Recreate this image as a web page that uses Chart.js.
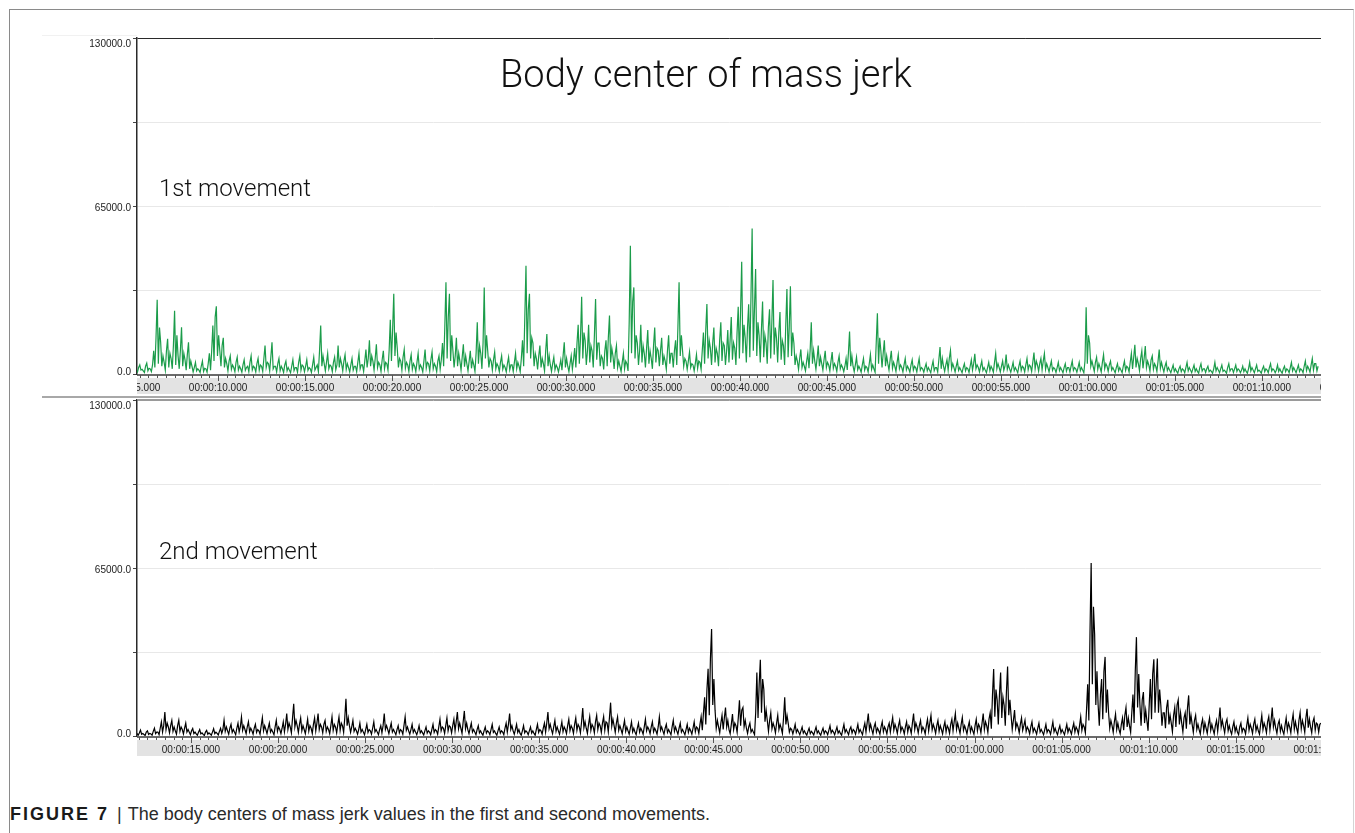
<!DOCTYPE html>
<html>
<head>
<meta charset="utf-8">
<script src="https://cdn.jsdelivr.net/npm/chart.js@4.4.1/dist/chart.umd.min.js"></script>
<style>
  html, body { margin: 0; padding: 0; background: #fff; }
  body { width: 1355px; height: 833px; position: relative; overflow: hidden; }
  .frame { position: absolute; left: 9px; top: 9px; width: 1343px; height: 840px;
           border-left: 1px solid #8a8a8a; border-top: 1px solid #8a8a8a; border-right: 1px solid #d4d4d4; }
  canvas { position: absolute; left: 0; }
  #topChart { top: 0; }
  #bottomChart { top: 362px; }
  .hline { position: absolute; }
  .txt { position: absolute; white-space: nowrap; color: #111; line-height: 1; }
  #title { left: 406px; width: 600px; text-align: center; top: 52px; font: 300 38px Roboto, "Open Sans", sans-serif; }
  .mv { left: 159px; font: 300 24px Roboto, "Open Sans", sans-serif; }
  #mv1 { top: 174px; }
  #mv2 { top: 537px; }
  #caption { left: 10px; top: 804px; font: 18px "Liberation Sans", Arial, sans-serif; color: #2a2a2a; }
  #caption b { font-weight: bold; letter-spacing: 2px; color: #1a1a1a; }
  #caption .bar { margin: 0 6px 0 8px; }
</style>
</head>
<body>
<div class="frame"></div>
<div class="hline" style="left:42px;top:35px;width:95px;height:1px;background:#f1f1f1"></div>
<canvas id="topChart" width="1355" height="400"></canvas>
<canvas id="bottomChart" width="1355" height="400"></canvas>
<div class="hline" style="left:42px;top:396px;width:1279px;height:2px;background:#a8a8a8"></div>
<div class="hline" style="left:137px;top:399px;width:1184px;height:1px;background:#9a9a9a"></div>
<div class="txt" id="title">Body center of mass jerk</div>
<div class="txt mv" id="mv1">1st movement</div>
<div class="txt mv" id="mv2">2nd movement</div>
<div class="txt" id="caption"><b>FIGURE 7</b><span class="bar">|</span>The body centers of mass jerk values in the first and second movements.</div>
<script>
// Sampling grid of both recordings (seconds). Each 0.2 s block holds three
// interleaved sample phases: P0 at t, P1 at t + 1/3 step, P2 at t + 2/3 step.
const SAMPLE_STEP = 0.2;
const firstStart = 5.3;
const secondStart = 11.9;
const firstRange = [5.34, 73.4];
const secondRange = [11.9, 79.9];

// Body centre of mass jerk, 1st movement
const firstJerkP0 = [
  1500, 3500, 1200, 4200, 2000, 9000, 28700, 12300, 4500, 13600,
  6000, 24500, 7000, 18100, 5500, 12300, 3000, 4500, 1500, 5000,
  2000, 8000, 18800, 26200, 9000, 14000, 4000, 7000, 2500, 6500,
  2000, 5500, 3000, 7000, 2500, 6000, 3000, 11000, 4000, 12300,
  3000, 6000, 2000, 5000, 1500, 5500, 2500, 7000, 3000, 5500,
  2000, 6500, 3500, 18800, 4000, 8000, 3000, 6500, 11000, 4000,
  7500, 2500, 6000, 3000, 8000, 3500, 9500, 13000, 5000, 11500,
  3500, 9000, 4000, 21000, 31000, 10000, 5000, 9500, 3500, 7500,
  3000, 8000, 2500, 9500, 4000, 8500, 3000, 7000, 12000, 35500,
  31000, 9000, 14000, 5000, 11500, 4000, 9000, 3500, 20000, 8000,
  33500, 9000, 5000, 8500, 3000, 7000, 2500, 6500, 3500, 8000,
  3000, 13000, 41900, 31000, 12000, 6000, 11000, 4000, 15500, 3500,
  6500, 2500, 5500, 12300, 3000, 7000, 10000, 19000, 29900, 13000,
  19000, 9000, 29000, 12000, 6000, 13000, 22600, 7000, 11000, 3000,
  8000, 4000, 49600, 33500, 12000, 19000, 8000, 17000, 6000, 18000,
  9000, 14000, 5000, 15000, 8000, 13000, 35500, 9000, 5000, 8500,
  3500, 7500, 4500, 16000, 27100, 10000, 18000, 8000, 20000, 11000,
  17000, 22000, 10000, 26000, 43400, 14000, 27000, 56300, 40600, 15000,
  28000, 12000, 25000, 36400, 14000, 24000, 11000, 32900, 33900, 12000,
  5000, 9500, 3000, 8000, 20000, 5000, 11000, 4000, 9000, 3500,
  8500, 3000, 7000, 2500, 6000, 16400, 3000, 6500, 2000, 6000,
  2500, 7500, 2000, 23500, 9000, 13000, 4000, 9000, 3000, 7500,
  2500, 6000, 2000, 5500, 2500, 6000, 2000, 4000, 1500, 5000,
  2500, 10400, 3000, 5500, 9100, 2500, 5000, 1500, 4000, 2000,
  5500, 7800, 2500, 5000, 1500, 4500, 2000, 8000, 2500, 5000,
  7500, 2000, 4500, 1500, 5000, 2500, 6000, 3000, 8300, 3500,
  6000, 7900, 2500, 5000, 2000, 4500, 1500, 4000, 2500, 5000,
  2000, 4500, 1500, 25800, 12000, 3000, 6500, 2500, 7500, 3000,
  5000, 1500, 4000, 1500, 5000, 2500, 8000, 11300, 4000, 9000,
  10800, 3500, 7000, 3000, 9500, 2500, 4500, 1500, 3500, 1000,
  3000, 1500, 4500, 1500, 3500, 1000, 4000, 2000, 3000, 1000,
  4500, 1500, 3500, 1000, 4000, 2000, 3500, 1500, 3000, 1000,
  4500, 1500, 3500, 1000, 3000, 1500, 4000, 1500, 3500, 1000,
  3000, 1500, 4500, 1500, 3500, 1500, 5000, 2000, 6000, 4000
];
const firstJerkP1 = [
  800, 1500, 600, 1200, 900, 2500, 4000, 3000, 1500, 2500,
  2000, 3500, 2000, 3000, 1500, 2000, 800, 1200, 600, 1000,
  700, 1500, 5000, 7000, 3000, 2500, 1200, 1800, 900, 1500,
  700, 1400, 900, 1600, 800, 1500, 1000, 2500, 1200, 2000,
  800, 1300, 600, 1200, 500, 1300, 700, 1500, 900, 1400,
  600, 1500, 900, 3000, 1200, 2000, 900, 1600, 2500, 1200,
  1800, 800, 1500, 900, 2000, 1000, 2500, 3000, 1500, 2500,
  1000, 2000, 1500, 5000, 7000, 2500, 1500, 2200, 1000, 1800,
  900, 2000, 800, 2200, 1200, 2000, 900, 1800, 3000, 6000,
  5000, 2500, 3000, 1500, 2800, 1200, 2200, 1000, 4000, 2000,
  6000, 2500, 1500, 2000, 900, 1800, 800, 1600, 1000, 2000,
  900, 3000, 8000, 6000, 3000, 1800, 2500, 1200, 3000, 1000,
  1600, 800, 1500, 2500, 900, 1800, 2500, 4000, 6000, 3500,
  4500, 2500, 5500, 3000, 1800, 3000, 4500, 2000, 2500, 1000,
  2000, 1200, 8000, 6000, 3500, 4500, 2500, 4000, 2000, 4500,
  3000, 3500, 1800, 4000, 2500, 3500, 7000, 3000, 1800, 2500,
  1200, 2200, 1800, 4000, 6000, 3500, 4500, 3000, 5000, 3500,
  4500, 5500, 3500, 6000, 8000, 4500, 6500, 9000, 7000, 4500,
  6500, 4000, 6000, 7500, 4500, 5500, 3500, 6500, 7000, 3500,
  1800, 2500, 1200, 2200, 4000, 1800, 3000, 1500, 2500, 1200,
  2200, 1000, 2000, 900, 1600, 3000, 900, 1600, 700, 1500,
  800, 1800, 700, 4000, 2500, 3000, 1500, 2200, 1000, 2000,
  800, 1600, 700, 1500, 800, 1500, 700, 1200, 500, 1300,
  800, 2000, 1000, 1500, 2000, 800, 1400, 500, 1200, 600,
  1500, 2000, 800, 1400, 500, 1300, 700, 2000, 800, 1400,
  1800, 700, 1300, 500, 1400, 800, 1600, 1000, 2000, 1100,
  1600, 1800, 800, 1400, 600, 1300, 500, 1100, 800, 1400,
  700, 1300, 500, 4000, 3000, 1000, 1800, 800, 2000, 1000,
  1500, 500, 1200, 500, 1400, 800, 2000, 2500, 1300, 2200,
  2500, 1100, 1800, 1000, 2200, 800, 1300, 500, 1000, 300,
  900, 500, 1200, 500, 1000, 300, 1100, 600, 900, 300,
  1200, 500, 1000, 300, 1100, 600, 1000, 500, 900, 300,
  1200, 500, 1000, 300, 900, 500, 1100, 500, 1000, 300,
  900, 500, 1200, 500, 1000, 500, 1300, 700, 1500, 1200
];
const firstJerkP2 = [
  2500, 1800, 3000, 2200, 3500, 14000, 18000, 7000, 9000, 8000,
  11000, 15000, 9000, 8000, 7500, 5000, 2500, 2000, 3000, 2200,
  4000, 9000, 22000, 15000, 11000, 6000, 5000, 3500, 4500, 3000,
  3500, 2500, 4500, 3000, 4000, 3500, 6000, 4500, 6500, 3000,
  4000, 3000, 3500, 2500, 3000, 2500, 4500, 3500, 3000, 2500,
  3500, 2500, 9000, 7000, 4500, 3500, 4500, 3500, 6000, 5000,
  4000, 3500, 3000, 4500, 3500, 5000, 6000, 7000, 6000, 4500,
  5500, 4500, 9000, 17000, 16000, 6000, 6500, 4500, 5000, 4000,
  4500, 3500, 5000, 4500, 5500, 4000, 5000, 5500, 18000, 22000,
  15000, 7000, 8000, 6500, 7000, 5000, 5500, 8000, 11000, 12000,
  15000, 6000, 5500, 4000, 4500, 3500, 4000, 3500, 4500, 4500,
  6000, 22000, 25000, 14000, 8000, 7000, 6000, 9000, 7000, 4000,
  3500, 3000, 7000, 6000, 4000, 5500, 12000, 14000, 16000, 9000,
  11000, 15000, 12000, 7000, 9000, 14000, 10000, 8000, 5000, 4500,
  5000, 20000, 28000, 15000, 9000, 11000, 10000, 9000, 11000, 10000,
  9000, 7000, 9000, 8000, 9000, 18000, 15000, 6000, 5000, 4000,
  4000, 5000, 9000, 17000, 13000, 12000, 10000, 13000, 12000, 9000,
  13000, 12000, 16000, 24000, 19000, 18000, 30000, 25000, 20000, 17000,
  15000, 18000, 20000, 18000, 16000, 13000, 19000, 18000, 16000, 7000,
  6000, 4500, 5000, 9000, 9000, 6000, 6500, 5500, 4500, 5000,
  4000, 4500, 3500, 3000, 8000, 7000, 3500, 3000, 3500, 3000,
  4000, 3500, 12000, 14000, 8000, 7000, 5500, 4500, 4500, 3500,
  3500, 3000, 3500, 3000, 3500, 2500, 2500, 2500, 3000, 2500,
  5500, 6000, 3500, 6000, 4000, 3000, 2500, 2500, 2500, 3000,
  4000, 3500, 3000, 2500, 2500, 3000, 4500, 4000, 3000, 3000,
  3500, 2500, 2500, 3000, 3000, 3500, 3500, 4500, 5000, 4000,
  5000, 4000, 3000, 2500, 2500, 2500, 2500, 2500, 3000, 2500,
  2500, 2500, 5000, 15000, 5000, 4500, 4000, 4500, 4000, 3500,
  2500, 2500, 2500, 3000, 3000, 4500, 6500, 6000, 6000, 6000,
  5000, 5500, 4000, 5000, 4500, 3000, 2500, 2000, 2000, 2000,
  2000, 2500, 2500, 2000, 2000, 2500, 2000, 2000, 1500, 2000,
  2500, 2000, 1500, 2500, 2000, 2000, 2000, 1500, 2000, 2000,
  2500, 2000, 1500, 2000, 2000, 2500, 2000, 1500, 2000, 2000,
  2000, 2500, 2500, 2000, 2000, 3000, 3000, 3500, 4000, 3000
];

// Body centre of mass jerk, 2nd movement
const secondJerkP0 = [
  1000, 2300, 600, 2000, 800, 3000, 1500, 5500, 9300, 3500,
  6000, 2000, 6100, 2500, 5000, 1500, 2900, 800, 2500, 600,
  2200, 800, 2800, 1000, 3000, 6100, 2000, 4500, 1500, 5000,
  7400, 2500, 5500, 2000, 4500, 2000, 7100, 2500, 5000, 1500,
  6100, 2500, 5500, 8700, 3500, 12500, 4000, 7000, 2500, 6500,
  3000, 7000, 8700, 3500, 6000, 2500, 7400, 3500, 7400, 4000,
  14400, 4000, 6000, 2000, 5000, 1500, 4500, 2000, 5500, 1500,
  4000, 8700, 2500, 5000, 1500, 4000, 2000, 7400, 2000, 4500,
  1500, 4000, 1200, 3500, 1500, 4500, 2000, 6500, 3000, 7000,
  3500, 6500, 9300, 3000, 9700, 2500, 5000, 1500, 4000, 1000,
  3500, 1500, 4500, 1000, 3500, 1500, 5000, 8700, 2000, 4500,
  1000, 4000, 1500, 3500, 1000, 4500, 2000, 5000, 9300, 2500,
  6000, 2000, 5500, 2500, 6500, 3000, 7000, 3500, 10800, 3000,
  7500, 3500, 8000, 4000, 7500, 5000, 12900, 4000, 7400, 2500,
  6000, 2000, 5500, 1500, 5000, 2000, 6500, 2500, 5500, 2000,
  7400, 2000, 4500, 1500, 6100, 2000, 5000, 1500, 4500, 2000,
  5500, 3000, 7500, 15000, 26000, 41400, 9900, 3500, 8000, 11000,
  2500, 8500, 4000, 13800, 11000, 3000, 5000, 1500, 24600, 29500,
  18000, 6000, 9000, 3500, 8000, 3000, 15000, 5000, 2500, 4500,
  1500, 3500, 1000, 3000, 1200, 3500, 1000, 3000, 1500, 4000,
  1500, 3500, 1000, 4500, 1500, 3500, 2000, 4500, 1500, 5000,
  8700, 2500, 5000, 2000, 5500, 2500, 5000, 7200, 3000, 6000,
  2500, 5500, 3000, 8700, 3500, 6000, 2500, 6500, 8000, 3000,
  6000, 2500, 5500, 3000, 6500, 8700, 3000, 7200, 2500, 5500,
  2000, 6500, 3500, 8700, 4000, 9000, 25900, 14000, 24600, 12000,
  26900, 8000, 10000, 3500, 7000, 6100, 2500, 5500, 2000, 5000,
  1500, 4500, 2000, 5500, 1500, 4000, 1500, 4500, 2000, 5000,
  2500, 7400, 3500, 20000, 66900, 39300, 12000, 22000, 30600, 9000,
  4000, 8500, 2500, 7000, 11000, 4000, 16000, 38250, 12000, 17000,
  6000, 22000, 29700, 30000, 12000, 9000, 14000, 5000, 11000, 14000,
  5000, 9000, 15700, 4500, 8000, 2500, 6500, 3000, 7000, 2500,
  6000, 11000, 3500, 6500, 2000, 5500, 1500, 5000, 2500, 7000,
  3000, 6500, 2000, 8000, 3500, 7500, 11000, 3000, 6000, 2000,
  7000, 3500, 8500, 3000, 9000, 4000, 10500, 3500, 7000, 4500,
  5000
];
const secondJerkP1 = [
  300, 700, 200, 600, 300, 900, 500, 1500, 2500, 1200,
  1800, 700, 1800, 800, 1500, 500, 900, 300, 800, 200,
  700, 300, 900, 400, 1000, 1800, 700, 1400, 500, 1500,
  2200, 900, 1600, 700, 1400, 700, 2000, 900, 1500, 500,
  1800, 900, 1600, 2500, 1200, 3500, 1400, 2000, 900, 1900,
  1000, 2000, 2500, 1200, 1800, 900, 2200, 1200, 2200, 1400,
  4000, 1400, 1800, 700, 1500, 500, 1400, 700, 1600, 500,
  1200, 2500, 900, 1500, 500, 1200, 700, 2200, 700, 1400,
  500, 1200, 400, 1100, 500, 1400, 700, 2000, 1000, 2000,
  1200, 2000, 2800, 1000, 2800, 900, 1500, 500, 1200, 300,
  1100, 500, 1400, 300, 1100, 500, 1500, 2500, 700, 1400,
  300, 1200, 500, 1100, 300, 1400, 700, 1500, 2800, 900,
  1800, 700, 1600, 900, 2000, 1000, 2200, 1200, 3200, 1000,
  2200, 1200, 2500, 1400, 2200, 1600, 3800, 1400, 2200, 900,
  1800, 700, 1600, 500, 1500, 700, 2000, 900, 1600, 700,
  2200, 700, 1400, 500, 1800, 700, 1500, 500, 1400, 700,
  1600, 1000, 2200, 4500, 8000, 12000, 3000, 1200, 2500, 3500,
  900, 2500, 1400, 4000, 3500, 1000, 1500, 500, 7000, 9000,
  5500, 1800, 2800, 1200, 2500, 1000, 4500, 1500, 800, 1400,
  500, 1100, 300, 900, 400, 1100, 300, 900, 500, 1200,
  500, 1100, 300, 1400, 500, 1100, 700, 1400, 500, 1500,
  2500, 800, 1500, 700, 1600, 800, 1500, 2200, 1000, 1800,
  800, 1600, 1000, 2500, 1200, 1800, 800, 2000, 2400, 1000,
  1800, 800, 1600, 1000, 2000, 2500, 1000, 2200, 800, 1600,
  700, 2000, 1200, 2500, 1400, 2800, 7500, 4500, 7000, 4000,
  8000, 2500, 3000, 1200, 2200, 1800, 800, 1600, 700, 1500,
  500, 1400, 700, 1600, 500, 1200, 500, 1400, 700, 1500,
  800, 2200, 1200, 6000, 20000, 12000, 4000, 6500, 9000, 3000,
  1400, 2500, 900, 2200, 3500, 1400, 5000, 11000, 4000, 5000,
  2000, 6500, 9000, 9000, 4000, 3000, 4500, 1600, 3500, 4500,
  1600, 2800, 4500, 1400, 2500, 800, 2000, 1000, 2200, 800,
  1800, 3500, 1200, 2000, 700, 1700, 500, 1500, 800, 2200,
  1000, 2000, 700, 2500, 1200, 2300, 3500, 1000, 1800, 700,
  2200, 1200, 2600, 1000, 2800, 1400, 3200, 1200, 2200, 1500,
  1600
];
const secondJerkP2 = [
  1200, 1000, 1500, 1000, 1800, 1500, 3000, 4000, 5000, 4000,
  3500, 4000, 3500, 3000, 2500, 2000, 1500, 1500, 1200, 1500,
  1200, 1500, 1500, 1800, 2500, 3500, 3000, 2500, 3000, 3500,
  4000, 3500, 3000, 3000, 2500, 4000, 4000, 3000, 2500, 3500,
  3500, 3000, 4500, 5000, 7000, 6000, 4500, 4000, 3500, 4000,
  4500, 5000, 4500, 4500, 3500, 4000, 4500, 4500, 5000, 7000,
  7000, 3500, 3000, 2500, 2500, 2500, 2500, 3000, 2500, 2500,
  4000, 4000, 3000, 2500, 2500, 2500, 4000, 3500, 2500, 2500,
  2000, 2000, 2000, 2000, 2500, 2500, 3500, 3500, 4000, 4000,
  4000, 5500, 5000, 5500, 5000, 3000, 2500, 2500, 2000, 2000,
  2000, 2500, 2000, 2000, 2000, 3000, 4500, 4000, 2500, 2500,
  2000, 2000, 2000, 2000, 2500, 2500, 3000, 5000, 4500, 3500,
  3500, 3000, 3500, 4000, 4000, 4500, 4500, 5500, 5500, 4500,
  4500, 5500, 5000, 5000, 5500, 7000, 6500, 5000, 4000, 3500,
  3500, 3000, 3000, 3000, 3000, 3500, 3500, 3500, 3000, 3500,
  3500, 3000, 2500, 3500, 3500, 3000, 2500, 2500, 3000, 3000,
  3500, 4500, 9000, 18000, 30000, 22000, 6000, 5000, 7000, 6000,
  4500, 5000, 7000, 10000, 6000, 3500, 2500, 9000, 20000, 22000,
  10000, 6000, 5000, 5000, 4500, 7000, 8000, 3000, 2500, 2500,
  2000, 2000, 1800, 1800, 2000, 2000, 1800, 2000, 2200, 2200,
  2000, 2000, 2500, 2500, 2500, 2500, 2500, 2500, 3000, 5000,
  4500, 3500, 3000, 3500, 3500, 3500, 4500, 4500, 4000, 3500,
  3500, 4000, 5000, 5000, 4000, 3500, 4000, 5000, 4500, 4000,
  4000, 3500, 4000, 4500, 5500, 5000, 4500, 4000, 3500, 3500,
  4000, 4500, 5000, 5500, 6500, 16000, 18000, 16000, 15000, 17000,
  14000, 6000, 5000, 4500, 4000, 3500, 3500, 3000, 3000, 2500,
  2500, 2500, 3000, 3000, 2500, 2500, 2500, 3000, 3000, 3500,
  4000, 4500, 10000, 40000, 50000, 25000, 16000, 25000, 18000, 6000,
  5500, 5000, 4500, 8000, 7000, 9000, 25000, 24000, 14000, 10000,
  12000, 24000, 20000, 18000, 9000, 11000, 8000, 8000, 12000, 9000,
  7000, 11000, 8000, 6000, 4500, 4500, 5000, 4500, 4500, 4000,
  6000, 6000, 5000, 4000, 3500, 3500, 3500, 3000, 4000, 4500,
  4500, 4000, 4500, 5000, 5500, 6000, 6000, 4500, 4000, 4000,
  5000, 5500, 5500, 6000, 6000, 7000, 6500, 5500, 5000, 4500,
  4000
];

// Value axis
const yMax = 130000;
const yStep = 32500;
const yLabelValues = [0, 65000, 130000];
const yLabels = ['0.0', '65000.0', '130000.0'];

// Time axis labels
const firstTimeSeconds = [5, 10, 15, 20, 25, 30, 35, 40, 45, 50, 55, 60, 65, 70, 75];
const firstTimeLabels = ['00:00:05.000', '00:00:10.000', '00:00:15.000', '00:00:20.000', '00:00:25.000',
  '00:00:30.000', '00:00:35.000', '00:00:40.000', '00:00:45.000', '00:00:50.000', '00:00:55.000',
  '00:01:00.000', '00:01:05.000', '00:01:10.000', '00:01:15.000'];
const secondTimeSeconds = [10, 15, 20, 25, 30, 35, 40, 45, 50, 55, 60, 65, 70, 75, 80];
const secondTimeLabels = ['00:00:10.000', '00:00:15.000', '00:00:20.000', '00:00:25.000', '00:00:30.000',
  '00:00:35.000', '00:00:40.000', '00:00:45.000', '00:00:50.000', '00:00:55.000', '00:01:00.000',
  '00:01:05.000', '00:01:10.000', '00:01:15.000', '00:01:20.000'];

// Merge the sample phases into one time-ordered trace
function toPoints(phases, start) {
  const pts = [];
  const n = phases.length;
  phases[0].forEach((_, i) => {
    const t = start + i * SAMPLE_STEP;
    phases.forEach((p, k) => {
      if (i < p.length) pts.push({ x: +(t + k * SAMPLE_STEP / n).toFixed(3), y: p[i] });
    });
  });
  return pts;
}

// Value labels beside the left axis
const valueLabels = {
  id: 'valueLabels',
  afterDraw(chart) {
    const { ctx, chartArea: a, scales: { y } } = chart;
    ctx.save();
    ctx.font = '10px "Liberation Sans", Arial, sans-serif';
    ctx.fillStyle = '#222';
    ctx.textAlign = 'right';
    ctx.textBaseline = 'middle';
    yLabelValues.forEach((v, i) => {
      const shift = -2 + 8 * v / yMax;
      ctx.fillText(yLabels[i], a.left - 6, y.getPixelForValue(v) + shift);
    });
    ctx.restore();
  }
};

// Grey time ruler below each plot: axis line, half-second ticks and clipped labels
const timeRuler = {
  id: 'timeRuler',
  afterDraw(chart, args, opts) {
    const { ctx, chartArea: a, scales: { x } } = chart;
    ctx.save();
    ctx.fillStyle = '#e3e3e3';
    ctx.fillRect(a.left, a.bottom + 4, a.right - a.left, 16);
    ctx.strokeStyle = '#3a3a3a';
    ctx.lineWidth = 1.5;
    ctx.beginPath();
    ctx.moveTo(a.left, a.bottom + 1);
    ctx.lineTo(a.right, a.bottom + 1);
    ctx.stroke();
    ctx.lineWidth = 1;
    ctx.strokeStyle = '#555';
    const k0 = Math.ceil(x.min * 2), k1 = Math.floor(x.max * 2);
    ctx.beginPath();
    for (let k = k0; k <= k1; k++) {
      const px = Math.round(x.getPixelForValue(k / 2)) + 0.5;
      const len = (k % 10 === 0) ? 6 : 3;
      ctx.moveTo(px, a.bottom + 1);
      ctx.lineTo(px, a.bottom + 1 + len);
    }
    ctx.stroke();
    ctx.beginPath();
    ctx.rect(a.left, a.bottom + 4, a.right - a.left, 16);
    ctx.clip();
    ctx.font = '10px "Liberation Sans", Arial, sans-serif';
    ctx.fillStyle = '#222';
    ctx.textAlign = 'center';
    ctx.textBaseline = 'middle';
    opts.seconds.forEach((s, i) => {
      ctx.fillText(opts.labels[i], x.getPixelForValue(s), a.bottom + 14.5);
    });
    ctx.restore();
  }
};

function makeChart(id, phases, start, range, colour, seconds, labels, topColour) {
  return new Chart(document.getElementById(id), {
    type: 'line',
    data: {
      datasets: [{
        data: toPoints(phases, start),
        borderColor: colour,
        borderWidth: 1.2,
        pointRadius: 0,
        tension: 0,
        fill: false
      }]
    },
    options: {
      responsive: false,
      animation: false,
      events: [],
      layout: { padding: { left: 0, top: 38, right: 34, bottom: 26 } },
      plugins: {
        legend: { display: false },
        tooltip: { enabled: false },
        timeRuler: { seconds, labels }
      },
      scales: {
        x: { type: 'linear', display: false, min: range[0], max: range[1] },
        y: {
          min: 0, max: yMax,
          afterFit(scale) { scale.width = 137; },
          border: { display: true, color: '#2a2a2a', width: 1.5 },
          grid: {
            color: c => c.tick.value === yMax ? topColour : (c.tick.value === 0 ? 'rgba(0,0,0,0)' : '#e8e8e8'),
            tickColor: '#444',
            tickLength: 4,
            lineWidth: 1
          },
          ticks: {
            stepSize: yStep,
            padding: 2,
            font: { family: '"Liberation Sans", Arial, sans-serif', size: 10 },
            callback: () => ''
          }
        }
      }
    },
    plugins: [timeRuler, valueLabels]
  });
}

makeChart('topChart', [firstJerkP0, firstJerkP1, firstJerkP2], firstStart, firstRange, '#1b9c4a',
  firstTimeSeconds, firstTimeLabels, '#2a2a2a');
makeChart('bottomChart', [secondJerkP0, secondJerkP1, secondJerkP2], secondStart, secondRange, '#000000',
  secondTimeSeconds, secondTimeLabels, '#9a9a9a');
</script>
</body>
</html>
